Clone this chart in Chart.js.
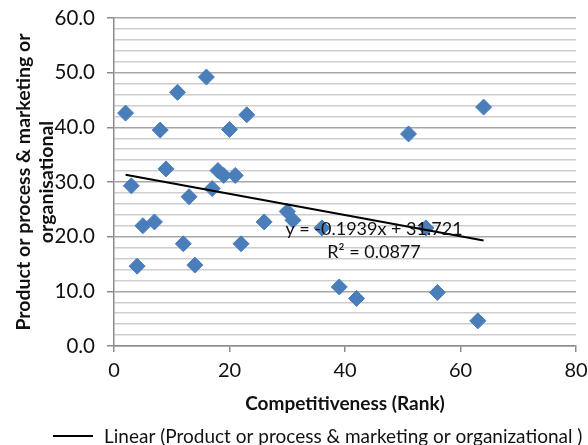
<!DOCTYPE html>
<html>
<head>
<meta charset="utf-8">
<script src="https://cdn.jsdelivr.net/npm/chart.js@4.4.1/dist/chart.umd.min.js"></script>
<style>
    html, body { margin: 0; padding: 0; background: #fff; }
    #wrap { width: 588px; height: 445px; position: relative; }
</style>
</head>
<body>
<div id="wrap"><canvas id="rankChart"></canvas></div>
<script>
// competitiveness rank of each country
const rank = [2, 8, 11, 16, 20, 23, 9, 18, 19, 21, 3, 17, 13, 5, 7, 4, 12, 14, 22, 26, 30, 31, 36, 39, 54, 42, 56, 63, 51, 64];
// share of firms with product/process & marketing/organisational innovation
const innovation = [42.6, 39.5, 46.4, 49.2, 39.6, 42.3, 32.4, 32.1, 31.2, 31.2, 29.3, 28.8, 27.3, 22.0, 22.7, 14.6, 18.7, 14.8, 18.7, 22.7, 24.6, 23.0, 21.6, 10.8, 21.6, 8.7, 9.8, 4.6, 38.8, 43.7];

// fitted trend
const slope = -0.1939;
const intercept = 31.721;
const rSquared = 0.0877;

const xTicks = [0, 20, 40, 60, 80];
const yTicks = [0, 10, 20, 30, 40, 50, 60];

const FONT = 'Lato, "Open Sans", sans-serif';
const blue = '#4a7ebb';
const ink = '#111';

const points = rank.map((x, i) => ({ x, y: innovation[i] }));
const xMin = Math.min(...rank);
const xMax = Math.max(...rank);
const trend = [xMin, xMax].map((x) => ({ x, y: slope * x + intercept }));

const overlay = {
    id: 'overlay',
    afterDraw(chart) {
        const { ctx } = chart;
        ctx.save();
        ctx.fillStyle = ink;
        ctx.textBaseline = 'alphabetic';

        // regression label
        ctx.font = '18px ' + FONT;
        ctx.textAlign = 'center';
        ctx.fillText(`y = ${slope}x + ${intercept}`, 374, 235);
        ctx.fillText(`R² = ${rSquared}`, 374, 258);

        // legend
        ctx.strokeStyle = '#000';
        ctx.lineWidth = 2;
        ctx.beginPath();
        ctx.moveTo(53, 436);
        ctx.lineTo(93, 436);
        ctx.stroke();
        ctx.textAlign = 'left';
        ctx.font = '19px ' + FONT;
        ctx.fillText('Linear (Product or process & marketing or organizational )', 104, 443);
        ctx.restore();
    }
};

new Chart(document.getElementById('rankChart'), {
    type: 'scatter',
    data: {
        datasets: [{
            type: 'line',
            label: 'Linear (Product or process & marketing or organizational )',
            data: trend,
            borderColor: '#000',
            borderWidth: 2,
            pointRadius: 0,
            fill: false,
            order: 0
        }, {
            label: 'Product or process & marketing or organisational',
            data: points,
            pointStyle: 'rectRot',
            pointRadius: 8,
            pointHoverRadius: 8,
            backgroundColor: blue,
            borderColor: blue,
            borderWidth: 1,
            order: 1
        }]
    },
    options: {
        responsive: true,
        maintainAspectRatio: false,
        animation: false,
        events: [],
        layout: { padding: { top: 18, right: 12, left: 0, bottom: 0 } },
        plugins: { legend: { display: false }, tooltip: { enabled: false } },
        scales: {
            x: {
                type: 'linear',
                min: xTicks[0],
                max: xTicks[xTicks.length - 1],
                afterBuildTicks: (scale) => { scale.ticks = xTicks.map((value) => ({ value })); },
                afterFit: (scale) => {
                    scale.height = 99;
                    scale.paddingLeft = 0;
                    scale.paddingRight = 0;
                },
                border: { color: '#8c8c8c', width: 1.5 },
                grid: { drawOnChartArea: false, tickLength: 6, color: '#8c8c8c', lineWidth: 1.5 },
                ticks: { color: ink, font: { family: FONT, size: 20 }, padding: 7, maxRotation: 0 },
                title: {
                    display: true,
                    text: 'Competitiveness (Rank)',
                    color: ink,
                    font: { family: FONT, size: 19, weight: 'bold', lineHeight: 1.2 },
                    padding: { top: 0, bottom: 30 }
                }
            },
            y: {
                min: yTicks[0],
                max: yTicks[yTicks.length - 1],
                ticks: {
                    stepSize: 2,
                    autoSkip: false,
                    color: ink,
                    font: { family: FONT, size: 20.5 },
                    padding: 12,
                    callback: (v) => (yTicks.includes(v) ? v.toFixed(1) : '')
                },
                afterFit: (scale) => {
                    scale.width = 114;
                    scale.paddingTop = 0;
                    scale.paddingBottom = 0;
                },
                border: { color: '#8c8c8c', width: 1.5 },
                grid: {
                    tickLength: 7,
                    lineWidth: 1.5,
                    color: (c) => (yTicks.includes(c.tick.value) ? '#a6a6a6' : '#cdcdcd'),
                    tickColor: (c) => (yTicks.includes(c.tick.value) ? '#8c8c8c' : 'rgba(0,0,0,0)')
                },
                title: {
                    display: true,
                    text: ['Product or process & marketing or', 'organisational'],
                    color: ink,
                    font: { family: FONT, size: 19.5, weight: 'bold', lineHeight: 1.2 },
                    padding: { top: 12, bottom: 0 }
                }
            }
        }
    },
    plugins: [overlay]
});
</script>
</body>
</html>
